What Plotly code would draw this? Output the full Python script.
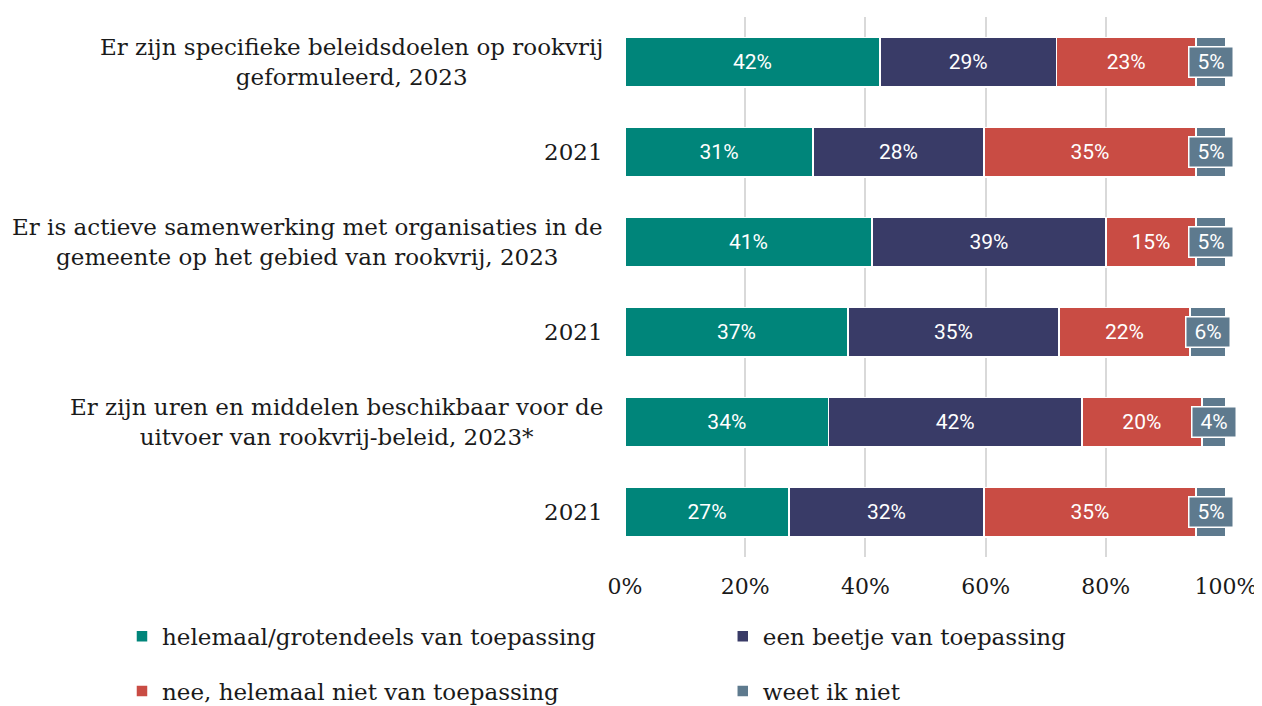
import plotly.graph_objects as go

categories = [
    "Er zijn specifieke beleidsdoelen op rookvrij<br>geformuleerd, 2023",
    "2021",
    "Er is actieve samenwerking met organisaties in de<br>gemeente op het gebied van rookvrij, 2023",
    "2021",
    "Er zijn uren en middelen beschikbaar voor de<br>uitvoer van rookvrij-beleid, 2023*",
    "2021",
]
series_names = [
    "helemaal/grotendeels van toepassing",
    "een beetje van toepassing",
    "nee, helemaal niet van toepassing",
    "weet ik niet",
]
helemaal = [42.4, 31.3, 41.1, 37.1, 33.9, 27.3]
beetje = [29.4, 28.4, 38.9, 35.1, 42.1, 32.4]
nee = [23.2, 35.3, 15.0, 21.8, 20.0, 35.3]
weet = [5.0, 5.0, 5.0, 6.0, 4.0, 5.0]
colors = ["#00857A", "#393B67", "#C94C44", "#5E7A8E"]
xticks = [0, 20, 40, 60, 80, 100]

values = [helemaal, beetje, nee, weet]
ycats = list(range(len(categories)))

SERIF = "DejaVu Serif"
TXT = "#1a1a1a"

fig = go.Figure()
legend_ids = ["legend", "legend2", "legend3", "legend4"]
for i, (name, vals, col) in enumerate(zip(series_names, values, colors)):
    show_text = i < 3
    fig.add_trace(go.Bar(
        y=ycats, x=vals, name=name, orientation="h",
        marker=dict(color=col, line=dict(color="white", width=1.5)),
        text=[f"{round(v)}%" for v in vals] if show_text else None,
        textposition="inside" if show_text else "none",
        insidetextanchor="middle", textangle=0,
        textfont=dict(family="Roboto", size=21, color="white"),
        width=0.55,
        legend=legend_ids[i],
        hoverinfo="x+name",
    ))

# boxed labels for "weet ik niet"
for yi in ycats:
    start = helemaal[yi] + beetje[yi] + nee[yi]
    fig.add_annotation(
        x=start + weet[yi] / 2, y=yi, xref="x", yref="y",
        text=f"{round(weet[yi])}%", showarrow=False,
        font=dict(family="Roboto", size=21, color="white"),
        bgcolor=colors[3], bordercolor="white", borderwidth=1.5, borderpad=1.5,
        width=40, height=26,
    )

# category labels (centered multi-line, right edge near axis)
for yi, cat in enumerate(categories):
    fig.add_annotation(
        x=0, y=yi, xref="paper", yref="y", text=cat,
        showarrow=False, xanchor="right", xshift=-20, align="center",
        font=dict(family=SERIF, size=23, color=TXT),
    )

legend_pos = [(0.0909, 0.100), (0.570, 0.100), (0.0909, 0.0215), (0.570, 0.0215)]
legend_layouts = {}
for lid, (lx, ly) in zip(legend_ids, legend_pos):
    legend_layouts[lid] = dict(
        orientation="h", xref="container", yref="container",
        x=lx, xanchor="left", y=ly, yanchor="middle",
        font=dict(family=SERIF, size=23, color=TXT),
        itemwidth=30, bgcolor="rgba(0,0,0,0)",
    )

fig.update_layout(
    barmode="stack",
    width=1254, height=698,
    margin=dict(l=617, r=36, t=9, b=149),
    paper_bgcolor="white", plot_bgcolor="white",
    xaxis=dict(
        range=[0, 100], tickvals=xticks, ticktext=[f"{t}%" for t in xticks],
        showgrid=True, gridcolor="#d9d9d9", gridwidth=2, zeroline=False,
        tickfont=dict(family=SERIF, size=22, color=TXT),
        ticks="", ticklen=0, fixedrange=True, ticklabelstandoff=14,
        automargin=False,
    ),
    yaxis=dict(
        range=[5.5, -0.5], showticklabels=False, showgrid=False,
        zeroline=False, fixedrange=True, automargin=False,
    ),
    showlegend=True,
    **legend_layouts,
)

fig.write_html("out.html")
